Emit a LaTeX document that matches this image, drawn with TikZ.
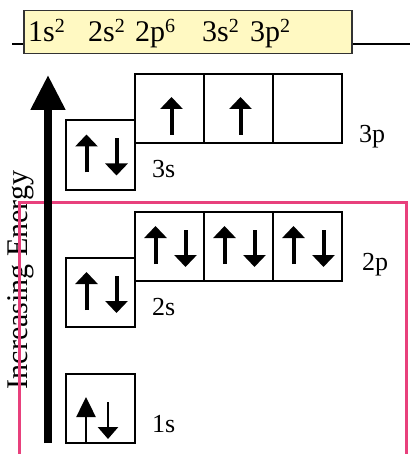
\documentclass[tikz,border=0pt]{standalone}
\usepackage{fontspec}
\setmainfont{Liberation Serif}
\usetikzlibrary{arrows.meta,calc}
\definecolor{pinkc}{HTML}{E8407C}
\definecolor{yel}{HTML}{FFF9C2}
\newcommand\supnum[1]{\raisebox{9pt}{\fontsize{20}{21}\selectfont #1}}
\begin{document}
\begin{tikzpicture}[x=1pt,y=-1pt,
  orb/.style={draw,line width=2pt,minimum width=69pt,minimum height=69pt,inner sep=0pt,outer sep=0pt},
  spin/.style={line width=4pt,-{Triangle[length=12pt,width=22pt]}},
  thinspin/.style={line width=2.8pt,-{Triangle[length=12pt,width=20pt]}},
  lbl/.style={font=\fontsize{26}{28}\selectfont,anchor=base west,inner sep=0pt},
  cfgtxt/.style={font=\fontsize{30}{32}\selectfont,anchor=base west,inner sep=0pt},
  pairarr/.pic={
    \draw[spin] (20.5,52) -- (20.5,14);
    \draw[spin] (50.5,18) -- (50.5,55);
  },
  onearr/.pic={
    \draw[spin] (36.5,61) -- (36.5,23);
  }]
\useasboundingbox (0,0) rectangle (409,454);

% configuration bar
\coordinate (hl) at (12,44);
\coordinate (hr) at (410,44);
\draw[line width=2pt] (hl) -- (hr);
\node[draw=black!80,fill=yel,line width=1.5pt,minimum width=328pt,minimum height=43pt,anchor=north west,inner sep=0pt] (cfg) at (23,10) {};
\node[cfgtxt] (c1) at (28,41.5) {1s\supnum{2}};
\node[cfgtxt] (c2) at (88,41.5) {2s\supnum{2}};
\node[cfgtxt] (c3) at (135,41.5) {2p\supnum{6}};
\node[cfgtxt] (c4) at (202,41.5) {3s\supnum{2}};
\node[cfgtxt] (c5) at (250,41.5) {3p\supnum{2}};

% axis label
\node[font=\fontsize{30}{32}\selectfont,rotate=90,anchor=base,inner sep=0pt] (ie) at (27,280) {Increasing Energy};

% pink frame
\coordinate (pa) at (19,458);
\coordinate (pb) at (19,202);
\coordinate (pc) at (406,202);
\coordinate (pd) at (406,458);
\draw[pinkc,line width=3pt] (pa) -- (pb) -- (pc) -- (pd);

% energy arrow
\coordinate (ea) at (48,443);
\coordinate (eb) at (48,75);
\draw[line width=8pt,-{Triangle[length=35pt,width=33pt]}] (ea) -- (eb);

% orbital boxes
\node[orb] (s1) at (100.5,408) {};
\node[orb] (s2) at (100.5,292.5) {};
\node[orb] (s3) at (100.5,155) {};
\node[orb] (p2a) at (169.5,246.5) {};
\node[orb] (p2b) at (238.5,246.5) {};
\node[orb] (p2c) at (307.5,246.5) {};
\node[orb] (p3a) at (169.5,108.5) {};
\node[orb] (p3b) at (238.5,108.5) {};
\node[orb] (p3c) at (307.5,108.5) {};

% electrons
\pic at (s2.north west) {pairarr};
\pic at (s3.north west) {pairarr};
\pic at (p2a.north west) {pairarr};
\pic at (p2b.north west) {pairarr};
\pic at (p2c.north west) {pairarr};
\pic at (p3a.north west) {onearr};
\pic at (p3b.north west) {onearr};
\coordinate (u1a) at (86,443);
\coordinate (u1b) at (86,397);
\coordinate (d1a) at (108,402);
\coordinate (d1b) at (108,439);
\draw[line width=2.5pt,-{Triangle[length=20pt,width=19pt]}] (u1a) -- (u1b);
\draw[thinspin] (d1a) -- (d1b);

% labels
\node[lbl] (l1s) at (152,432) {1s};
\node[lbl] (l2s) at (152,315) {2s};
\node[lbl] (l3s) at (152,178) {3s};
\node[lbl] (l2p) at (362,270) {2p};
\node[lbl] (l3p) at (359,143) {3p};
\end{tikzpicture}
\end{document}
